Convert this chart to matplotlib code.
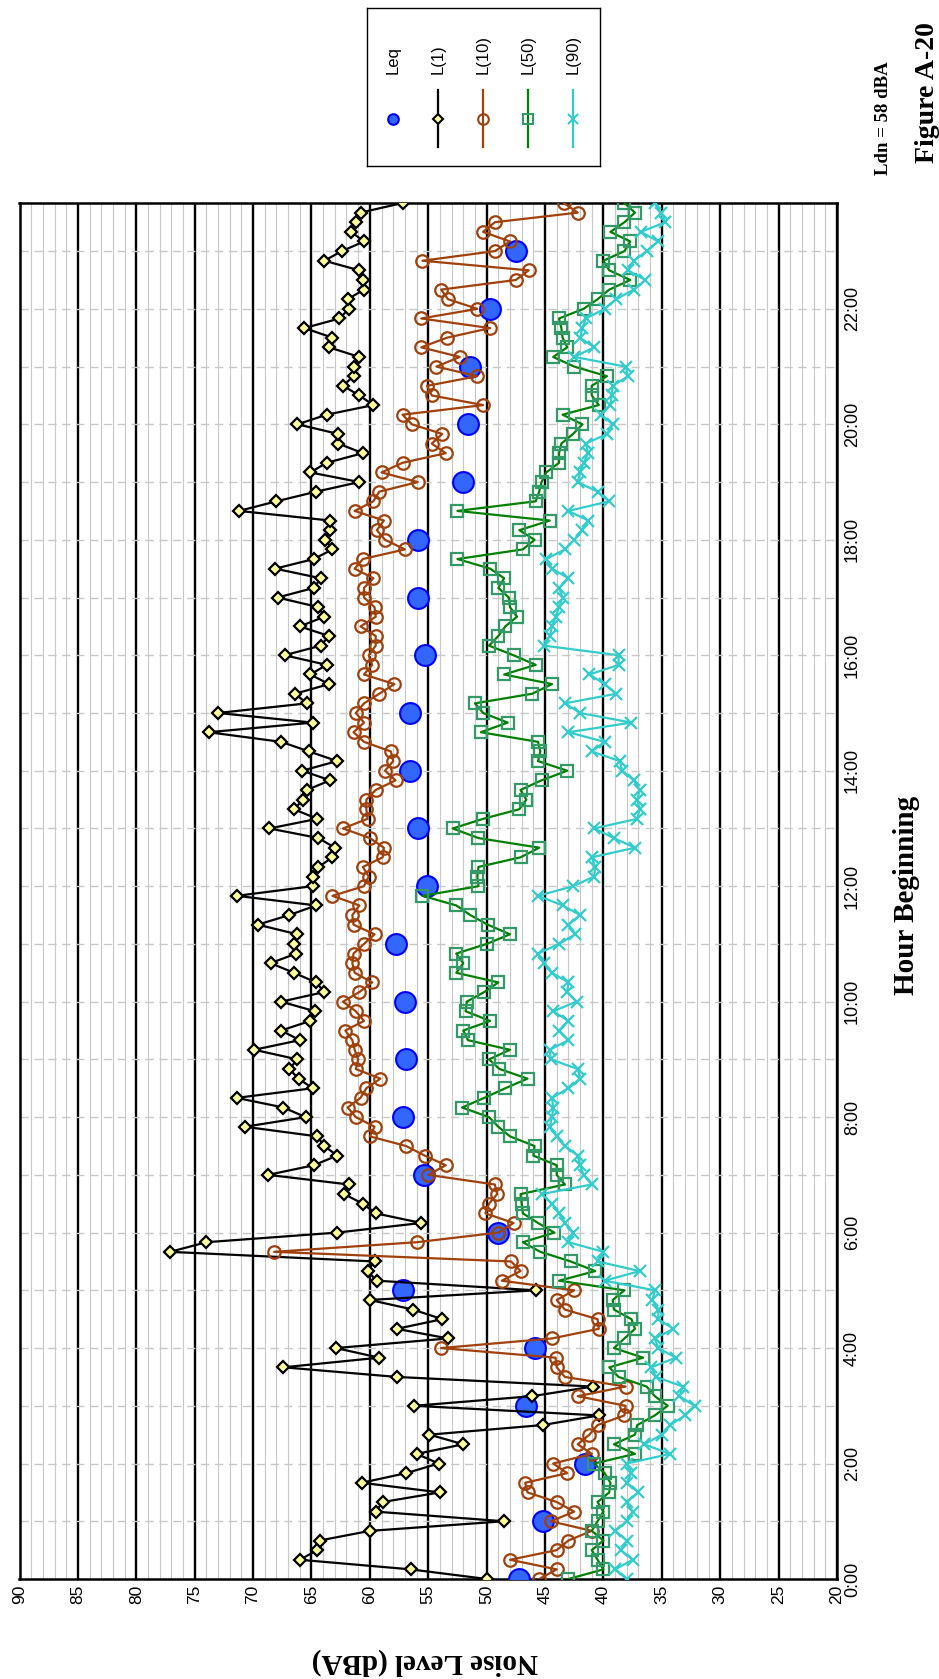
import numpy as np
import matplotlib.pyplot as plt
from matplotlib.ticker import MultipleLocator

# ---- data: 10-minute samples (144 per series), hourly Leq ----
hours = np.arange(144) / 6.0
leq_hours = np.arange(24)

leq = [47.2, 45.2, 41.6, 46.6, 45.9, 57.2, 49.0, 55.4, 57.2, 56.9, 57.0, 57.8,
       55.1, 55.9, 56.6, 56.6, 55.3, 55.9, 55.9, 52.0, 51.6, 51.4, 49.7, 47.5]

l1 = [50.0, 56.5, 66.0, 64.5, 64.3, 60.0, 48.5, 59.5, 58.9, 54.0, 60.7, 56.9,
      54.1, 56.0, 52.0, 54.9, 45.2, 40.4, 56.2, 46.1, 40.9, 57.7, 67.4, 59.2,
      62.9, 53.3, 57.7, 53.8, 56.3, 60.0, 45.8, 59.4, 60.2, 59.6, 77.1, 74.0,
      62.8, 55.6, 59.5, 60.6, 62.2, 61.8, 68.7, 64.8, 62.8, 63.9, 64.5, 70.7,
      65.5, 67.4, 71.4, 64.9, 66.1, 66.9, 66.2, 69.9, 66.0, 67.6, 65.1, 64.7,
      67.6, 63.9, 64.6, 66.5, 68.5, 66.3, 66.5, 66.2, 69.6, 66.9, 64.6, 71.4,
      64.9, 64.9, 64.4, 63.2, 63.0, 64.4, 68.6, 64.5, 66.5, 65.7, 65.4, 63.4,
      65.8, 62.8, 65.2, 67.6, 73.8, 64.9, 73.0, 65.4, 66.4, 63.5, 65.1, 63.7,
      67.3, 64.2, 63.5, 66.0, 63.9, 64.4, 67.9, 64.8, 64.2, 68.1, 64.8, 63.2,
      63.8, 63.4, 63.4, 71.2, 68.0, 64.6, 60.9, 65.1, 63.7, 60.6, 62.7, 62.7,
      66.2, 63.7, 59.7, 60.9, 62.3, 61.4, 61.4, 60.9, 63.5, 63.2, 65.6, 62.6,
      61.8, 61.9, 60.5, 60.6, 60.9, 63.9, 62.4, 60.5, 61.6, 61.2, 60.8, 57.2]

l10 = [45.5, 44.0, 48.0, 44.0, 43.0, 41.0, 44.5, 42.5, 44.0, 46.5, 46.7, 43.1,
       44.3, 41.0, 42.2, 41.2, 40.5, 38.2, 38.1, 42.2, 38.1, 43.3, 44.0, 44.1,
       53.9, 44.4, 40.4, 40.5, 43.3, 44.0, 42.5, 48.7, 47.1, 47.9, 68.2, 56.0,
       49.0, 47.7, 50.1, 49.8, 49.1, 49.3, 55.0, 53.5, 55.3, 56.9, 60.0, 59.6,
       61.2, 61.9, 60.8, 60.3, 59.1, 61.2, 61.0, 61.3, 61.5, 62.1, 60.5, 61.2,
       62.3, 60.9, 59.8, 61.3, 61.5, 61.4, 60.5, 59.6, 61.4, 61.5, 60.9, 63.2,
       60.5, 60.1, 60.6, 58.9, 58.8, 60.0, 62.3, 60.2, 60.3, 60.3, 59.5, 57.8,
       58.7, 58.0, 58.2, 60.5, 61.4, 60.5, 61.2, 60.5, 59.2, 57.9, 60.5, 59.8,
       60.1, 59.5, 59.5, 60.8, 59.5, 59.6, 60.5, 60.5, 59.7, 61.3, 60.6, 57.0,
       58.7, 59.4, 58.8, 61.3, 59.7, 59.2, 55.9, 59.0, 57.2, 53.5, 54.7, 53.8,
       56.4, 57.2, 50.3, 54.7, 55.1, 50.8, 54.3, 52.3, 55.6, 53.4, 49.7, 55.6,
       50.8, 53.3, 53.9, 47.5, 46.4, 55.5, 49.3, 48.0, 50.3, 49.3, 42.2, 43.4]

l50 = [43.0, 40.0, 40.5, 41.0, 40.0, 41.0, 40.5, 40.0, 40.5, 39.5, 39.4, 39.9,
       40.8, 37.3, 39.1, 37.3, 37.1, 35.6, 34.5, 35.6, 36.3, 38.7, 39.5, 36.6,
       39.1, 38.2, 37.3, 37.6, 39.1, 39.2, 38.2, 43.8, 40.7, 42.8, 45.4, 46.9,
       44.2, 45.6, 46.9, 47.0, 47.1, 43.3, 44.0, 44.0, 46.0, 45.9, 48.0, 49.0,
       49.8, 52.1, 50.2, 48.4, 46.5, 48.9, 49.8, 48.0, 51.6, 52.0, 49.7, 51.8,
       51.7, 50.2, 49.0, 52.6, 52.0, 52.6, 50.0, 48.0, 49.9, 51.4, 52.6, 55.5,
       50.7, 50.8, 50.7, 47.1, 45.5, 50.7, 52.9, 50.3, 47.2, 46.6, 47.1, 45.3,
       43.1, 45.6, 45.4, 45.6, 50.5, 48.2, 50.3, 51.0, 46.1, 44.4, 48.5, 45.8,
       47.7, 49.8, 49.0, 48.4, 47.4, 48.0, 48.1, 49.0, 48.5, 49.7, 52.5, 46.9,
       45.9, 47.2, 44.6, 52.5, 45.8, 45.5, 45.3, 44.9, 43.8, 43.8, 43.6, 42.6,
       41.8, 43.5, 40.4, 41.0, 41.0, 39.7, 42.5, 44.3, 43.1, 43.5, 43.6, 43.8,
       41.7, 40.5, 39.5, 37.7, 39.5, 40.0, 38.2, 37.7, 39.4, 38.2, 37.3, 38.2]

l90 = [38.0, 39.0, 37.5, 38.5, 38.0, 39.0, 38.0, 37.5, 38.0, 37.0, 38.0, 37.6,
       38.0, 34.3, 36.5, 35.0, 34.3, 33.0, 32.2, 33.5, 33.2, 35.5, 35.9, 33.8,
       35.3, 35.6, 34.0, 35.3, 35.3, 35.8, 35.6, 39.9, 36.9, 40.5, 40.0, 43.0,
       42.6, 43.3, 43.8, 44.4, 45.3, 41.0, 41.7, 42.0, 42.2, 43.3, 44.0, 44.6,
       44.4, 44.3, 44.4, 43.0, 42.0, 42.2, 44.5, 44.6, 43.0, 43.8, 43.0, 44.3,
       42.3, 43.1, 43.0, 44.4, 45.1, 45.6, 43.8, 42.4, 43.0, 42.0, 43.5, 45.6,
       42.6, 40.8, 40.7, 41.0, 37.3, 39.1, 40.8, 37.1, 36.9, 37.1, 36.9, 37.4,
       38.4, 38.6, 41.0, 39.9, 43.0, 37.6, 42.0, 43.3, 38.9, 39.9, 41.2, 38.7,
       38.7, 45.1, 44.6, 44.4, 44.1, 43.8, 43.5, 43.8, 43.0, 44.4, 44.9, 43.3,
       42.5, 41.8, 41.3, 43.0, 39.5, 40.5, 42.2, 42.0, 41.7, 41.3, 41.5, 39.7,
       39.2, 40.2, 39.4, 39.3, 39.2, 37.9, 38.1, 42.5, 40.8, 42.0, 41.8, 41.5,
       39.9, 38.9, 37.4, 36.4, 37.9, 37.4, 36.3, 35.3, 36.8, 34.7, 35.1, 35.6]

level_ticks = list(range(90, 15, -5))
hour_ticks = list(range(0, 24, 2))
hour_labels = [f"{h}:00" for h in hour_ticks]

SANS = "Liberation Sans"
SERIF = "Liberation Serif"
W, H = 939, 1679

# series styles: (label, values, line colour, marker, marker face, marker edge, size)
STYLES = [
    ("L(1)", l1, "black", "D", "#ffff99", "black", 6.5),
    ("L(10)", l10, "#a0400a", "o", "none", "#a0400a", 9),
    ("L(50)", l50, "#008000", "s", "none", "#339966", 8.5),
    ("L(90)", l90, "#33cccc", "x", "#33cccc", "#33cccc", 9),
]

fig = plt.figure(figsize=(W / 100, H / 100), dpi=100)
ax = fig.add_axes([19.5 / W, 1 - 1579 / H, (837 - 19.5) / W, (1579 - 203) / H])

ax.plot(leq, leq_hours, linestyle="none", marker="o", markersize=15,
        markerfacecolor="#3366ff", markeredgecolor="#0000ff", markeredgewidth=1.5,
        zorder=3)
for lab, vals, col, mk, mfc, mec, ms in STYLES:
    ax.plot(vals, hours, color=col, lw=1.6, marker=mk, markersize=ms,
            markerfacecolor=mfc, markeredgecolor=mec, markeredgewidth=1.6,
            zorder=4)

ax.set_xlim(90, 20)
ax.set_ylim(0, 23 + 50 / 60)
ax.set_xticks(level_ticks)
ax.set_xticklabels([str(v) for v in level_ticks], rotation=90, fontsize=12.5,
                   family=SANS, va="top")
ax.xaxis.set_minor_locator(MultipleLocator(1))
ax.yaxis.tick_right()
ax.set_yticks(hour_ticks)
ax.set_yticklabels(hour_labels, rotation=90, fontsize=13, family=SANS, va="center")
ax.set_yticks(range(0, 24), minor=True)
ax.tick_params(axis="both", which="both", length=0)
ax.tick_params(axis="x", pad=4)
ax.tick_params(axis="y", pad=5)

ax.grid(axis="x", which="minor", color="#c8c8c8", lw=0.8, zorder=0)
ax.grid(axis="x", which="major", color="black", lw=1.7, zorder=1)
ax.grid(axis="y", which="both", color="#c8c8c8", lw=1.0, ls=(0, (6, 4)), zorder=0)
ax.set_axisbelow(True)
for sp in ax.spines.values():
    sp.set_linewidth(1.8)

fig.text(425 / W, 1 - 1662 / H, "Noise Level (dBA)", rotation=180, fontsize=21,
         fontweight="bold", family=SERIF, ha="center", va="center")
fig.text(906 / W, 1 - 895 / H, "Hour Beginning", rotation=90, fontsize=21,
         fontweight="bold", family=SERIF, ha="center", va="center")

# ---- legend, built by hand because it is rotated ----
lax = fig.add_axes([367 / W, 1 - 166 / H, 233 / W, 158 / H])
lax.set_xlim(0, 5)
lax.set_ylim(0, 1)
lax.set_xticks([])
lax.set_yticks([])
for sp in lax.spines.values():
    sp.set_linewidth(1.0)
entries = [("Leq", None, "o", "#3366ff", "#0000ff", 9)] + \
    [(lab, col, mk, mfc, mec, ms) for lab, _, col, mk, mfc, mec, ms in STYLES]
for i, (lab, col, mk, mfc, mec, ms) in enumerate(entries):
    xc = 0.55 + i * 0.97
    if col is not None:
        lax.plot([xc, xc], [0.12, 0.48], color=col, lw=1.6)
    lax.plot([xc], [0.30], marker=mk, markersize=ms * 0.85, markerfacecolor=mfc,
             markeredgecolor=mec, markeredgewidth=1.5, linestyle="none")
    lax.text(xc, 0.58, lab, rotation=90, fontsize=12, family=SANS,
             ha="center", va="bottom")

fig.text(884 / W, 1 - 118 / H, "Ldn = 58 dBA", rotation=90, fontsize=13.5,
         fontweight="bold", family=SERIF, ha="center", va="center")
fig.text(927 / W, 1 - 93 / H, "Figure A-20", rotation=90, fontsize=20,
         fontweight="bold", family=SERIF, ha="center", va="center")

fig.savefig("out.png", dpi=100)
